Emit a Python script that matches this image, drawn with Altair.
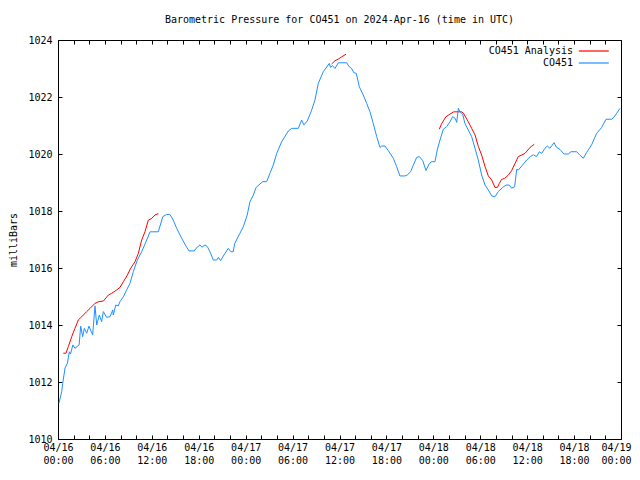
import altair as alt
import pandas as pd

# ---------------- data (hours after 2024-04-16 00:00 UTC, millibars) ----------------
obs_hours = [0.13, 0.47, 0.60, 0.90, 1.20, 1.45, 1.60, 1.90, 2.17, 2.70, 2.90, 3.15, 3.37, 3.67,
             3.96, 4.43, 4.73, 4.95, 5.28, 5.58, 5.80, 6.22, 6.65, 7.00, 7.07, 7.38, 7.71, 7.93,
             8.36, 8.78, 9.20, 9.63, 10.15, 10.70, 11.25, 11.77, 12.83, 13.40, 13.90, 14.30,
             14.67, 15.18, 15.82, 16.37, 16.75, 17.43, 17.65, 18.16, 18.40, 18.80, 19.10, 19.44,
             19.86, 20.29, 20.50, 20.80, 21.23, 21.78, 22.10, 22.40, 22.60, 23.27, 23.70, 24.20,
             24.55, 24.98, 25.32, 25.83, 26.20, 26.69, 27.10, 27.53, 27.97, 28.60, 29.46, 29.90,
             30.73, 31.16, 31.45, 31.88, 32.44, 32.86, 33.29, 33.93, 34.70, 34.85, 35.10, 35.42,
             35.85, 36.92, 37.25, 37.55, 37.84, 38.15, 38.53, 39.04, 39.47, 39.90, 40.32, 40.76,
             41.18, 41.40, 41.82, 42.24, 42.88, 43.30, 43.73, 44.38, 44.65, 45.10, 45.44, 45.87,
             46.20, 46.64, 47.06, 47.49, 47.80, 48.21, 48.50, 48.85, 49.28, 49.71, 50.13, 50.48,
             50.80, 50.99, 51.20, 51.40, 51.75, 52.04, 52.47, 52.90, 53.33, 53.75, 54.18, 54.61,
             55.03, 55.46, 55.88, 56.31, 56.87, 57.30, 57.72, 58.00, 58.40, 58.66, 58.88, 59.40,
             59.95, 60.40, 60.80, 61.20, 61.56, 61.85, 62.28, 62.58, 62.92, 63.43, 63.77, 64.20,
             64.70, 65.26, 65.60, 66.33, 66.75, 67.18, 67.60, 68.24, 68.88, 69.52, 70.09, 70.80,
             71.10, 71.45, 71.87]
obs_mb = [1011.26, 1011.66, 1011.95, 1012.49, 1012.66, 1013.06, 1012.98, 1013.30, 1013.18, 1013.30,
          1013.96, 1013.59, 1013.88, 1013.71, 1013.96, 1013.65, 1014.67, 1014.00, 1014.35, 1014.12,
          1014.47, 1014.27, 1014.29, 1014.53, 1014.35, 1014.70, 1014.67, 1014.82, 1014.99, 1015.23,
          1015.46, 1015.87, 1016.28, 1016.57, 1016.92, 1017.27, 1017.27, 1017.80, 1017.88, 1017.88,
          1017.72, 1017.39, 1017.04, 1016.77, 1016.60, 1016.60, 1016.69, 1016.81, 1016.73, 1016.81,
          1016.75, 1016.57, 1016.28, 1016.28, 1016.37, 1016.26, 1016.46, 1016.69, 1016.57, 1016.57,
          1016.86, 1017.22, 1017.45, 1017.86, 1018.33, 1018.56, 1018.82, 1018.95, 1019.03, 1019.03,
          1019.32, 1019.61, 1020.02, 1020.43, 1020.81, 1020.90, 1020.90, 1021.19, 1021.02, 1021.16,
          1021.54, 1021.89, 1022.48, 1022.89, 1023.18, 1023.04, 1023.10, 1023.00, 1023.20, 1023.20,
          1023.06, 1023.00, 1022.85, 1022.83, 1022.36, 1022.07, 1021.78, 1021.48, 1021.07, 1020.61,
          1020.23, 1020.28, 1020.28, 1020.12, 1019.85, 1019.56, 1019.23, 1019.23, 1019.26, 1019.38,
          1019.61, 1019.88, 1019.91, 1019.77, 1019.42, 1019.67, 1019.73, 1019.73, 1020.14, 1020.49,
          1020.87, 1020.96, 1021.13, 1021.31, 1021.25, 1021.11, 1021.60, 1021.48, 1021.40, 1021.07,
          1020.84, 1020.61, 1020.20, 1019.79, 1019.26, 1018.91, 1018.74, 1018.53, 1018.50, 1018.68,
          1018.83, 1018.91, 1018.91, 1018.80, 1018.85, 1019.46, 1019.44, 1019.61, 1019.79, 1019.91,
          1019.97, 1019.91, 1020.08, 1020.02, 1020.20, 1020.28, 1020.20, 1020.40, 1020.23, 1020.16,
          1020.00, 1020.00, 1020.08, 1020.08, 1019.96, 1019.85, 1020.05, 1020.32, 1020.72, 1020.93,
          1021.22, 1021.22, 1021.29, 1021.43, 1021.60]

ana1_hours = [0.68, 1.02, 1.32, 1.75, 2.17, 2.60, 3.03, 3.67, 4.09, 4.73, 5.20, 5.80, 6.44, 6.86,
              7.50, 7.93, 8.36, 8.87, 9.29, 9.85, 10.27, 10.70, 11.12, 11.55, 11.98, 12.40, 12.83]
ana1_mb = [1013.01, 1013.01, 1013.24, 1013.59, 1013.88, 1014.18, 1014.29, 1014.47, 1014.58, 1014.76,
           1014.82, 1014.84, 1015.05, 1015.11, 1015.23, 1015.32, 1015.52, 1015.75, 1015.99, 1016.22,
           1016.51, 1016.98, 1017.27, 1017.68, 1017.74, 1017.86, 1017.91]
ana2_hours = [35.00, 35.42, 35.85, 36.28, 36.83]
ana2_mb = [1023.16, 1023.27, 1023.33, 1023.41, 1023.50]
ana3_hours = [48.76, 49.07, 49.62, 50.13, 50.60, 51.62, 51.85, 52.47, 52.90, 53.33, 53.76, 54.18,
              54.61, 55.03, 55.46, 55.88, 56.20, 56.44, 56.74, 57.10, 57.59, 58.00, 58.45, 58.87,
              59.72, 60.27, 60.60, 60.91]
ana3_mb = [1020.87, 1021.07, 1021.31, 1021.40, 1021.48, 1021.48, 1021.43, 1021.13, 1020.90, 1020.67,
           1020.26, 1019.96, 1019.56, 1019.23, 1019.09, 1018.83, 1018.83, 1018.97, 1019.11, 1019.14,
           1019.26, 1019.41, 1019.67, 1019.91, 1020.02, 1020.20, 1020.28, 1020.34]

series_names = ["CO451 Analysis", "CO451"]
series_colors = ["#ff0000", "#1e90ff"]
title_text = "Barometric Pressure for CO451 on 2024-Apr-16 (time in UTC)"
y_ticks = [1010, 1012, 1014, 1016, 1018, 1020, 1022, 1024]
minor_hours = list(range(0, 73, 2))

# ---------------- build table ----------------
BASE = pd.Timestamp("2024-04-16T00:00:00Z")


def iso(hours):
    return [(BASE + pd.Timedelta(hours=h)).strftime("%Y-%m-%dT%H:%M:%SZ") for h in hours]


frames = []
for seg, (hrs, vals, name) in enumerate([
    (ana1_hours, ana1_mb, series_names[0]),
    (ana2_hours, ana2_mb, series_names[0]),
    (ana3_hours, ana3_mb, series_names[0]),
    (obs_hours, obs_mb, series_names[1]),
]):
    frames.append(pd.DataFrame({"time": iso(hrs), "mb": vals, "series": name, "seg": seg}))
df = pd.concat(frames, ignore_index=True)


def dt(h):
    return alt.DateTime(year=2024, month=4, date=16 + h // 24, hours=h % 24, utc=True)


FONT = "DejaVu Sans Mono"
TICK = 4

xscale = alt.Scale(type="utc", domain=[dt(0), dt(72)])
yscale = alt.Scale(domain=[1010, 1024], nice=False, zero=False)

# bottom axis: a tick every 2 h (drawn inward via a negative offset), label every 6 h
label_x_axis = alt.Axis(values=[dt(h) for h in minor_hours], orient="bottom",
                        labelExpr="utchours(datum.value) % 6 == 0 ? "
                                  "[utcFormat(datum.value, '%m/%d'), utcFormat(datum.value, '%H:%M')] : ''",
                        ticks=True, tickSize=TICK, offset=-TICK, tickColor="black", tickWidth=1,
                        domain=False, grid=False, title=None,
                        labelPadding=3.5, labelLineHeight=12.5, labelFont=FONT, labelFontSize=10,
                        labelOffset={"condition": {"test": "datum.value >= utc(2024, 3, 19)", "value": -5},
                                     "value": 0},
                        labelColor="black", labelAngle=0, labelOverlap=False, labelFlush=False)
label_y_axis = alt.Axis(values=y_ticks, orient="left", format="d",
                        ticks=True, tickSize=TICK, offset=-TICK, tickColor="black", tickWidth=1,
                        domain=False, grid=False, title="milliBars", titleFont=FONT, titleFontSize=10,
                        titleFontWeight="normal", titleColor="black", titlePadding=9,
                        labelPadding=6, labelFont=FONT, labelFontSize=10, labelColor="black",
                        labelOverlap=False, labelFlush=False)


def tick_axis(values, orient):
    return alt.Axis(values=values, orient=orient, labels=False, domain=False, grid=False,
                    title="", ticks=True, tickSize=TICK, offset=-TICK, tickColor="black",
                    tickWidth=1)


lines = alt.Chart(df).mark_line(strokeWidth=1).encode(
    x=alt.X("time:T", scale=xscale, axis=label_x_axis),
    y=alt.Y("mb:Q", scale=yscale, axis=label_y_axis),
    color=alt.Color("series:N", scale=alt.Scale(domain=series_names, range=series_colors),
                    legend=alt.Legend(title=None, orient="none", legendX=505, legendY=6,
                                      symbolType="M3.6,0H13.6", symbolSize=36, symbolStrokeWidth=1.2,
                                      symbolOffset=0, labelAlign="right", labelOffset=0,
                                      labelFont=FONT, labelFontSize=10, labelColor="black",
                                      rowPadding=2, padding=0)),
    detail="seg:N",
)

ticks_tr = alt.Chart(df).mark_point(opacity=0).encode(
    x=alt.X("time:T", scale=xscale, axis=tick_axis([dt(h) for h in minor_hours], "top")),
    y=alt.Y("mb:Q", scale=yscale, axis=tick_axis(y_ticks, "right")),
)

chart = alt.layer(lines, ticks_tr).resolve_axis(
    x="independent", y="independent"
).properties(
    width=563, height=399,
    title=alt.TitleParams(title_text, font=FONT, fontSize=10, fontWeight="normal",
                          color="black", anchor="middle", offset=10),
    autosize=alt.AutoSizeParams(type="none"),
    padding={"left": 50, "top": 32, "right": 11, "bottom": 27},
).configure(
    background="white",
    view=alt.ViewConfig(stroke="black", strokeWidth=1),
)

chart.save("out.html", embed_options={"renderer": "svg", "actions": False})
